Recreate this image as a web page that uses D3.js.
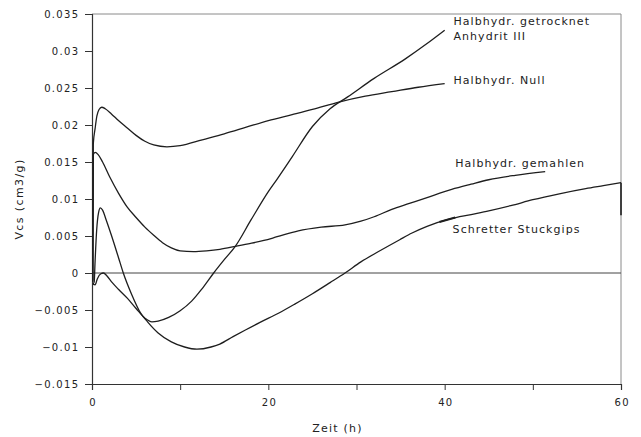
<!DOCTYPE html>
<html>
<head>
<meta charset="utf-8">
<script src="https://cdn.jsdelivr.net/npm/d3@7"></script>
<style>
  html, body { margin: 0; padding: 0; background: #fff; }
  svg { display: block; }
  text { font-family: "DejaVu Sans", sans-serif; fill: #222; }
</style>
</head>
<body>
<svg id="chart" width="641" height="437"></svg>
<script>
// Zeit in Stunden / Vcs in cm3/g
const tNull = [0.1, 0.15, 0.35, 0.55, 0.8, 1.1, 1.5, 2.2, 3, 4, 5, 6, 7, 8.5, 10, 12.5, 15, 17.5, 20, 22.7, 25, 28, 31, 34, 37, 40];
const vNull = [-0.0012, 0.0175, 0.0195, 0.0212, 0.0221, 0.0224, 0.0222, 0.0215, 0.0206, 0.0196, 0.0186, 0.0178, 0.0173, 0.01705, 0.0172, 0.018, 0.0188, 0.0197, 0.0206, 0.0214, 0.0221, 0.0231, 0.0239, 0.0245, 0.0251, 0.0256];

const tGemahlen = [0.1, 0.15, 0.35, 0.7, 1.2, 2, 3, 4, 5, 6, 7, 8, 9, 10, 11.5, 13, 14.5, 16.3, 18, 19.5, 21, 23.4, 26, 28.7, 30.5, 32, 34, 36, 38, 40.8, 43, 45, 48, 51.4];
const vGemahlen = [-0.001, 0.016, 0.0163, 0.016, 0.015, 0.013, 0.0108, 0.0089, 0.0075, 0.0062, 0.0051, 0.0041, 0.0034, 0.003, 0.0029, 0.003, 0.0032, 0.0036, 0.004, 0.0044, 0.0049, 0.0057, 0.0062, 0.0065, 0.007, 0.0076, 0.0086, 0.0094, 0.0102, 0.0113, 0.012, 0.0126, 0.0132, 0.0137];

const tGetrocknet = [0.1, 0.35, 0.6, 1.0, 1.3, 1.7, 2.3, 3, 4, 5, 6, 6.8, 7.5, 8.7, 10, 11.3, 12.5, 13.8, 15, 16.25, 18, 20, 21, 22.7, 25, 27, 29, 32, 35.5, 38, 40];
const vGetrocknet = [-0.0015, -0.0016, -0.0008, -0.0001, 0, -0.0004, -0.0013, -0.0022, -0.0034, -0.0048, -0.0061, -0.0066, -0.0065, -0.006, -0.0051, -0.0038, -0.0021, 0, 0.0018, 0.0036, 0.0071, 0.011, 0.0127, 0.0157, 0.0198, 0.0222, 0.0238, 0.0263, 0.0289, 0.031, 0.0328];

const tSchretter = [0.1, 0.25, 0.34, 0.53, 0.75, 0.95, 1.2, 1.6, 2.2, 3, 3.55, 4.5, 5.5, 6.3, 7.5, 9, 10.5, 11.9, 13.5, 14.5, 16, 17.4, 19, 21.2, 23, 25, 27, 28.7, 30.5, 32.5, 34.9, 36.3, 38, 40.6, 43, 45, 47.5, 50, 53, 56, 58, 60];
const vSchretter = [-0.0015, -0.0012, 0.0013, 0.0058, 0.0082, 0.0088, 0.0085, 0.0072, 0.0051, 0.0021, 0, -0.0029, -0.0054, -0.0066, -0.0081, -0.0093, -0.01, -0.0103, -0.01, -0.0096, -0.0086, -0.0077, -0.0067, -0.0054, -0.0042, -0.0028, -0.0013, 0, 0.0015, 0.0029, 0.0045, 0.0054, 0.0063, 0.0073, 0.0079, 0.0084, 0.0091, 0.0099, 0.0107, 0.0114, 0.0118, 0.0122];
// final reading of the Stuckgips series at t = 60 h
const tSchretterEnd = [60, 60];
const vSchretterEnd = [0.0122, 0.0078];

const seriesNames = ["Halbhydr. Null", "Halbhydr. gemahlen", "Halbhydr. getrocknet", "Schretter Stuckgips"];

const yTicks = [0.035, 0.03, 0.025, 0.02, 0.015, 0.01, 0.005, 0, -0.005, -0.01, -0.015];
const yTickLabels = ["0.035", "0.03", "0.025", "0.02", "0.015", "0.01", "0.005", "0", "\u22120.005", "\u22120.01", "\u22120.015"];
const xTicks = [0, 10, 20, 30, 40, 50, 60];
const xTickLabels = ["0", "", "20", "", "40", "", "60"];

// label text lines, anchored in data units (t, v)
const labelLines = ["Halbhydr. getrocknet", "Anhydrit III", "Halbhydr. Null", "Halbhydr. gemahlen", "Schretter Stuckgips"];
const labelT = [41, 41, 41, 41.2, 40.9];
const labelV = [0.0335, 0.0315, 0.02555, 0.01436, 0.00547];

// short leader stroke on the Stuckgips curve
const leaderT = [39.4, 41.2];
const leaderV = [0.0069, 0.0075];

const svg = d3.select("#chart");
const x = d3.scaleLinear().domain([0, 60]).range([92, 621]);
const y = d3.scaleLinear().domain([-0.015, 0.035]).range([384, 14]);

// frame: top and right in light grey
svg.append("line").attr("x1", x(0)).attr("x2", x(60)).attr("y1", y(0.035)).attr("y2", y(0.035))
  .attr("stroke", "#8a8a8a").attr("stroke-width", 1);
svg.append("line").attr("x1", x(60)).attr("x2", x(60)).attr("y1", y(0.035)).attr("y2", y(-0.015))
  .attr("stroke", "#8a8a8a").attr("stroke-width", 1);

// zero line
svg.append("line").attr("x1", x(0)).attr("x2", x(60)).attr("y1", y(0)).attr("y2", y(0))
  .attr("stroke", "#444").attr("stroke-width", 1);

// y axis
const yAxis = d3.axisLeft(y).tickValues(yTicks).tickSize(7).tickPadding(7)
  .tickFormat((d, i) => yTickLabels[i]);
const gy = svg.append("g").attr("transform", `translate(${x(0)},0)`).call(yAxis);
gy.select(".domain").attr("stroke", "#333").attr("stroke-width", 1.2);
gy.selectAll(".tick line").attr("stroke", "#333");
gy.selectAll(".tick text").attr("font-family", "DejaVu Sans").attr("font-size", 10)
  .attr("letter-spacing", "1.3px").attr("fill", "#222").attr("dx", "1.3");

// x axis
const xAxis = d3.axisBottom(x).tickValues(xTicks).tickSize(6).tickPadding(9)
  .tickFormat((d, i) => xTickLabels[i]);
const gx = svg.append("g").attr("transform", `translate(0,${y(-0.015)})`).call(xAxis);
gx.select(".domain").attr("stroke", "#333").attr("stroke-width", 1.2);
gx.selectAll(".tick line").attr("stroke", "#333");
gx.selectAll(".tick text").attr("font-family", "DejaVu Sans").attr("font-size", 10)
  .attr("letter-spacing", "1.3px").attr("fill", "#222").attr("dx", "0.65");

// axis titles
svg.append("text").attr("x", (x(0) + x(60)) / 2 - 19).attr("y", 432)
  .attr("text-anchor", "middle").attr("font-size", 11).attr("letter-spacing", "1.2px")
  .text("Zeit (h)");
svg.append("text").attr("transform", `translate(23,${(y(-0.015) + y(0.035)) / 2}) rotate(-90)`)
  .attr("text-anchor", "middle").attr("font-size", 11).attr("letter-spacing", "1.4px")
  .text("Vcs (cm3/g)");

// curves
const line = d3.line().x(d => x(d[0])).y(d => y(d[1])).curve(d3.curveMonotoneX);
const curves = [
  d3.zip(tNull, vNull),
  d3.zip(tGemahlen, vGemahlen),
  d3.zip(tGetrocknet, vGetrocknet),
  d3.zip(tSchretter, vSchretter)
];
svg.append("g").selectAll("path").data(curves).join("path")
  .attr("d", line).attr("fill", "none").attr("stroke", "#1e1e1e").attr("stroke-width", 1.3)
  .attr("stroke-linejoin", "round");

const straight = d3.line().x(d => x(d[0])).y(d => y(d[1]));
svg.append("path").datum(d3.zip(tSchretterEnd, vSchretterEnd))
  .attr("d", straight).attr("fill", "none").attr("stroke", "#1e1e1e").attr("stroke-width", 1.6);

svg.append("path").datum(d3.zip(leaderT, leaderV))
  .attr("d", straight).attr("fill", "none").attr("stroke", "#1e1e1e").attr("stroke-width", 2.2);

// curve labels
svg.append("g").selectAll("text").data(labelLines).join("text")
  .attr("x", (d, i) => x(labelT[i])).attr("y", (d, i) => y(labelV[i]))
  .attr("font-size", 11).attr("letter-spacing", "1.05px")
  .text(d => d);
</script>
</body>
</html>
